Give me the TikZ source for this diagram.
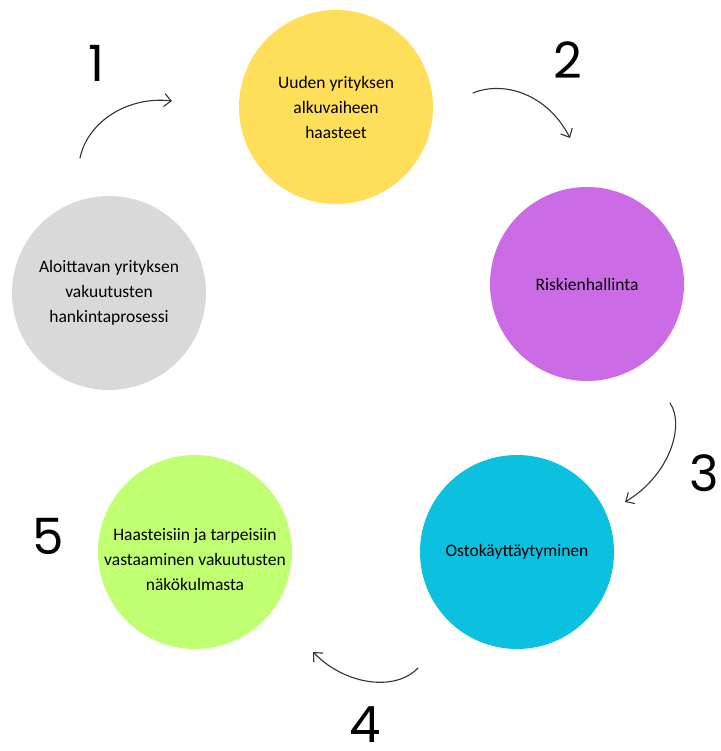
\documentclass[tikz,border=0pt]{standalone}
\usepackage{fontspec}
\setmainfont{Carlito}
\newfontfamily\numfont{Poppins}
\usetikzlibrary{arrows.meta}
\definecolor{cyellow}{HTML}{FFDE59}
\definecolor{cpurple}{HTML}{CB6CE6}
\definecolor{ccyan}{HTML}{0CC0DF}
\definecolor{cgreen}{HTML}{C1FF72}
\definecolor{cgray}{HTML}{D9D9D9}
\tikzstyle{phase}=[circle,minimum size=194pt,inner sep=0pt,align=center,font=\fontsize{17.5}{25}\selectfont]
\tikzstyle{stepnum}=[inner sep=0pt,font=\numfont\fontsize{50}{50}\selectfont]
\tikzstyle{flow}=[draw=black!80,line width=1.1pt,line cap=round,-{Straight Barb[length=7pt,width=13pt]}]

\begin{document}
\begin{tikzpicture}[x=1pt,y=-1pt]
    \useasboundingbox (0,0) rectangle (720,751);
    \node[phase, fill=cyellow] (alku) at (336,107) {Uuden yrityksen\\alkuvaiheen\\haasteet};
    \node[phase, fill=cpurple] (riski) at (587,284) {Riskienhallinta};
    \node[phase, fill=ccyan] (osto) at (517,552) {Ostokäyttäytyminen};
    \node[phase, fill=cgreen] (vast) at (195,552) {};
    \node[align=center, font=\fontsize{17.5}{25}\selectfont] (vastt) at (195,560) {Haasteisiin ja tarpeisiin\\vastaaminen vakuutusten\\näkökulmasta};
    \node[phase, fill=cgray] (hank) at (109,293) {Aloittavan yrityksen\\vakuutusten\\hankintaprosessi};
    \node[stepnum] (n1) at (96,63) {1};
    \node[stepnum] (n2) at (568,60) {2};
    \node[stepnum] (n3) at (704,473) {3};
    \node[stepnum] (n4) at (365,725) {4};
    \node[stepnum] (n5) at (48,536) {5};
    \coordinate (a1) at (80,158);
    \coordinate (b1) at (172,101);
    \coordinate (a2) at (473,93);
    \coordinate (b2) at (570,138);
    \coordinate (a3) at (670,403);
    \coordinate (b3) at (625,502);
    \coordinate (a4) at (418,668);
    \coordinate (b4) at (313,652);
    \draw[flow] (a1) .. controls (88,120) and (130,96) .. (b1);
    \draw[flow] (a2) .. controls (505,80) and (548,95) .. (b2);
    \draw[flow] (a3) .. controls (685,425) and (670,475) .. (b3);
    \draw[flow] (a4) .. controls (395,692) and (345,685) .. (b4);
\end{tikzpicture}
\end{document}
